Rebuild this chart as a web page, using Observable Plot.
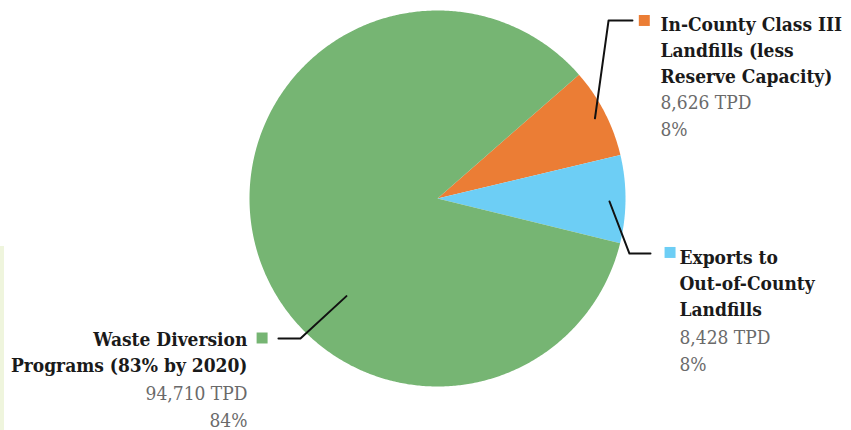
<!DOCTYPE html>
<html>
<head>
<meta charset="utf-8">
<script src="https://cdn.jsdelivr.net/npm/d3@7"></script>
<script src="https://cdn.jsdelivr.net/npm/@observablehq/plot@0.6"></script>
<style>
  html, body { margin: 0; padding: 0; background: #ffffff; }
  #wrap { position: relative; width: 851px; height: 430px; }
  #strip { position: absolute; left: 0; top: 246px; width: 4px; height: 184px; background: #eff5dd; }
  svg { display: block; }
</style>
</head>
<body>
<div id="wrap"><div id="strip"></div></div>
<script>
// Daily solid waste tonnage by destination (tons per day)
const categories = ["In-County Class III Landfills", "Exports to Out-of-County Landfills", "Waste Diversion Programs"];
const titleLines = [
  ["In-County Class III", "Landfills (less", "Reserve Capacity)"],
  ["Exports to", "Out-of-County", "Landfills"],
  ["Waste Diversion", "Programs (83% by 2020)"]
];
const tpd = [8626, 8428, 94710];
const shareLabels = ["8%", "8%", "84%"];
const colors = ["#eb7d35", "#6dcef5", "#76b573"];

// Label layout, in pie-radius units (centre = 0,0; rim = 1)
const leaderLayout = [
  {a: 63, r: 0.94, elbow: [0.91, 0.947], end: [1.037, 0.947], text: [1.186, 0.992], values: [1.186, 0.579], anchor: "start", key: [1.10, 0.947]},
  {a: 91, r: 0.915, elbow: [1.021, -0.293], end: [1.133, -0.293], text: [1.287, -0.249], values: [1.287, -0.673], anchor: "start", key: [1.237, -0.287]},
  {a: 223, r: 0.71, elbow: [-0.729, -0.745], end: [-0.846, -0.745], text: [-1.011, -0.684], values: [-1.011, -0.968], anchor: "end", key: [-0.933, -0.742]}
];

const start = 48.8 * Math.PI / 180;
const slices = d3.pie().sort(null).startAngle(start).endAngle(start + 2 * Math.PI)(tpd);

// Outline of each wedge: centre, then the arc sampled every half degree
const wedgePoints = slices.flatMap((s, i) => {
  const pts = [{name: categories[i], x: 0, y: 0}];
  const n = Math.max(2, Math.ceil((s.endAngle - s.startAngle) / (Math.PI / 360)));
  for (let k = 0; k <= n; k++) {
    const t = s.startAngle + (s.endAngle - s.startAngle) * k / n;
    pts.push({name: categories[i], x: Math.sin(t), y: Math.cos(t)});
  }
  return pts;
});

const leaders = leaderLayout.flatMap((L, i) => {
  const t = L.a * Math.PI / 180;
  return [
    {name: categories[i], x: L.r * Math.sin(t), y: L.r * Math.cos(t)},
    {name: categories[i], x: L.elbow[0], y: L.elbow[1]},
    {name: categories[i], x: L.end[0], y: L.end[1]}
  ];
});

const labels = leaderLayout.map((L, i) => ({
  name: categories[i],
  title: titleLines[i].join("\n"),
  values: d3.format(",")(tpd[i]) + " TPD\n" + shareLabels[i],
  tx: L.text[0], ty: L.text[1], vx: L.values[0], vy: L.values[1],
  kx: L.key[0], ky: L.key[1], anchor: L.anchor
}));

const serif = "'DejaVu Serif Condensed', 'DejaVu Serif', serif";
const titleStyle = {lineAnchor: "top", lineHeight: 1.38, fontSize: 19, fontWeight: "bold", fontFamily: serif, fill: "#1a1a1a"};
const valueStyle = {lineAnchor: "top", lineHeight: 1.42, fontSize: 19, fontFamily: serif, fill: "#6a6a6a"};

const chart = Plot.plot({
  width: 851,
  height: 430,
  margin: 0,
  x: {domain: [-1, 1], range: [249, 625], axis: null},
  y: {domain: [-1, 1], range: [386, 10], axis: null},
  color: {domain: categories, range: colors},
  marks: [
    Plot.line(wedgePoints, {x: "x", y: "y", z: "name", fill: "name", stroke: "none", curve: "linear-closed"}),
    Plot.line(leaders, {x: "x", y: "y", z: "name", stroke: "#111", strokeWidth: 2}),
    Plot.dot(labels, {x: "kx", y: "ky", symbol: "square", fill: "name", r: 6.2, stroke: "none"}),
    Plot.text(labels.filter(d => d.anchor === "start"), {x: "tx", y: "ty", text: "title", textAnchor: "start", ...titleStyle}),
    Plot.text(labels.filter(d => d.anchor === "end"), {x: "tx", y: "ty", text: "title", textAnchor: "end", ...titleStyle}),
    Plot.text(labels.filter(d => d.anchor === "start"), {x: "vx", y: "vy", text: "values", textAnchor: "start", ...valueStyle}),
    Plot.text(labels.filter(d => d.anchor === "end"), {x: "vx", y: "vy", text: "values", textAnchor: "end", ...valueStyle})
  ]
});

document.getElementById("wrap").appendChild(chart);
chart.style.position = "absolute";
chart.style.left = "0";
chart.style.top = "0";
chart.style.background = "transparent";
</script>
</body>
</html>
